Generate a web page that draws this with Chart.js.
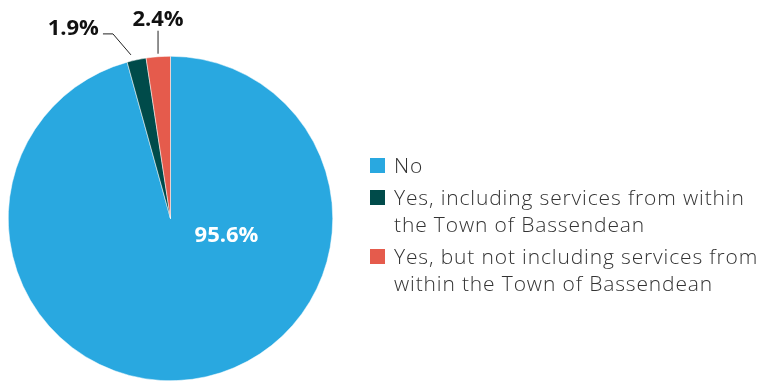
<!DOCTYPE html>
<html>
<head>
<meta charset="utf-8">
<script src="https://cdn.jsdelivr.net/npm/chart.js@4.4.1/dist/chart.umd.min.js"></script>
<style>
  html, body { margin: 0; padding: 0; background: #fff; }
  #wrap { width: 763px; height: 381px; position: relative; }
</style>
</head>
<body>
<div id="wrap"><canvas id="c" width="763" height="381"></canvas></div>
<script>
// Survey response shares (percent)
const categories = [
  ['No'],
  ['Yes, including services from within', 'the Town of Bassendean'],
  ['Yes, but not including services from', 'within the Town of Bassendean']
];
const shares = [95.6, 1.9, 2.4];
const sliceColors = ['#29A8E0', '#004B4A', '#E55B4C'];

const FONT = '"Open Sans", "Liberation Sans", sans-serif';

// Draws the percentage labels (inside for the large slice, with leader lines for the small ones)
const valueLabels = {
  id: 'valueLabels',
  afterDatasetsDraw(chart) {
    const ctx = chart.ctx;
    const meta = chart.getDatasetMeta(0);
    ctx.save();
    meta.data.forEach((arc, i) => {
      const { x, y, outerRadius, startAngle, endAngle } = arc.getProps(['x', 'y', 'outerRadius', 'startAngle', 'endAngle'], true);
      const text = shares[i].toFixed(1) + '%';
      const mid = (startAngle + endAngle) / 2;
      ctx.font = 'bold 22px ' + FONT;
      ctx.textBaseline = 'middle';
      if (i === 0) {
        ctx.fillStyle = '#ffffff';
        ctx.textAlign = 'center';
        ctx.fillText(text, x + outerRadius * 0.345, y + outerRadius * 0.105);
        return;
      }
      const ax = x + Math.cos(mid) * (outerRadius + 3);
      const ay = y + Math.sin(mid) * (outerRadius + 3);
      ctx.strokeStyle = '#222';
      ctx.lineWidth = 1;
      ctx.fillStyle = '#111';
      ctx.beginPath();
      if (i === 1) {
        const sx = ax - 5, sy = ay - 2;
        const ex = ax - 23, ey = ay - 23;
        ctx.moveTo(sx, sy);
        ctx.lineTo(ex, ey);
        ctx.lineTo(ex - 10, ey);
        ctx.stroke();
        ctx.textAlign = 'right';
        ctx.fillText(text, ex - 14, ey - 5);
      } else {
        const ex = ax, ey = ay - 23;
        ctx.moveTo(ax, ay);
        ctx.lineTo(ex, ey);
        ctx.stroke();
        ctx.textAlign = 'center';
        ctx.fillText(text, ex, ey - 11);
      }
    });
    ctx.restore();
  }
};

// Legend on the right, with wrapped labels
const sideLegend = {
  id: 'sideLegend',
  afterDraw(chart) {
    const ctx = chart.ctx;
    ctx.save();
    ctx.font = '300 21px ' + FONT;
    ctx.textBaseline = 'alphabetic';
    ctx.textAlign = 'left';
    const boxX = 370, textX = 394, box = 15, lineH = 27;
    // adjust tracking so the longest line spans the legend column
    const all = categories.flat();
    const longest = all.reduce((a, t) => Math.max(a, ctx.measureText(t).width), 0);
    const longestChars = all.reduce((a, t) => Math.max(a, t.length), 1);
    ctx.letterSpacing = ((364 - longest) / longestChars).toFixed(2) + 'px';
    const firstBaselines = [173, 205, 264];
    categories.forEach((lines, i) => {
      const b = firstBaselines[i];
      ctx.fillStyle = sliceColors[i];
      ctx.fillRect(boxX, b - 15, box, box);
      ctx.fillStyle = '#333333';
      lines.forEach((t, k) => ctx.fillText(t, textX, b + k * lineH));
    });
    ctx.restore();
  }
};

new Chart(document.getElementById('c'), {
  type: 'pie',
  data: {
    labels: categories.map(l => l.join(' ')),
    datasets: [{
      data: shares,
      backgroundColor: sliceColors,
      borderColor: '#ffffff',
      borderWidth: 0.5
    }]
  },
  options: {
    responsive: false,
    animation: false,
    layout: { padding: { left: 8, top: 56, right: 430, bottom: 0 } },
    plugins: {
      legend: { display: false },
      tooltip: { enabled: false }
    }
  },
  plugins: [valueLabels, sideLegend]
});
</script>
</body>
</html>
